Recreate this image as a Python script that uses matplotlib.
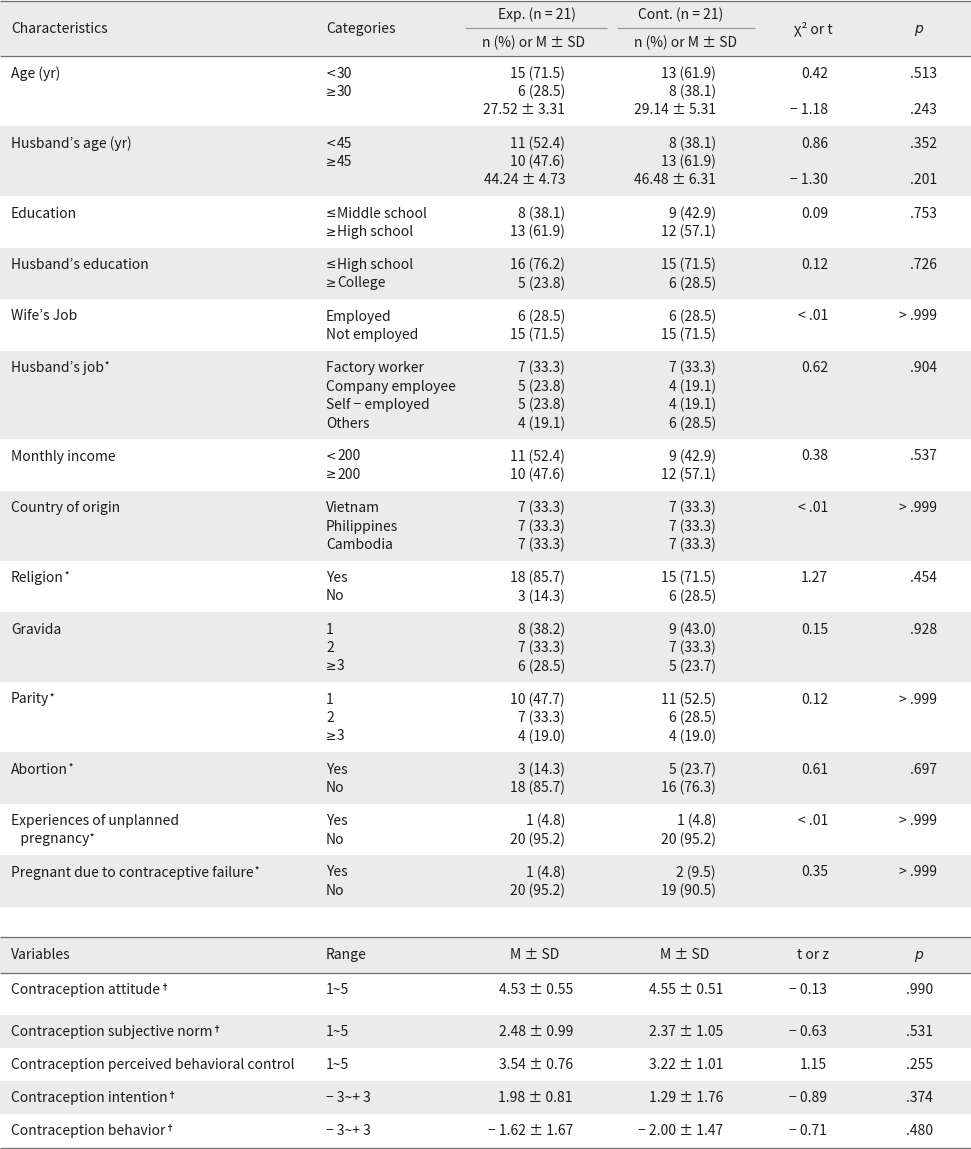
import matplotlib.pyplot as plt

plt.rcParams['font.family'] = ['Noto Sans CJK KR', 'DejaVu Sans']

# ---- table 1 data ----
characteristics = ["Age (yr)", "Husband’s age (yr)", "Education", "Husband’s education",
                   "Wife’s Job", "Husband’s job", "Monthly income", "Country of origin",
                   "Religion", "Gravida", "Parity", "Abortion",
                   "Experiences of unplanned\n   pregnancy", "Pregnant due to contraceptive failure"]
char_marks = ["", "", "", "", "", "*", "", "", "*", "", "*", "*", "*", "*"]
categories = [["<30", "≥30", ""], ["<45", "≥45", ""], ["≤Middle school", "≥High school"],
              ["≤High school", "≥College"], ["Employed", "Not employed"],
              ["Factory worker", "Company employee", "Self − employed", "Others"],
              ["<200", "≥200"], ["Vietnam", "Philippines", "Cambodia"], ["Yes", "No"],
              ["1", "2", "≥3"], ["1", "2", "≥3"], ["Yes", "No"], ["Yes", "No"], ["Yes", "No"]]
exp_vals = [["15 (71.5)", "6 (28.5)", "27.52 ± 3.31"], ["11 (52.4)", "10 (47.6)", "44.24 ± 4.73"],
            ["8 (38.1)", "13 (61.9)"], ["16 (76.2)", "5 (23.8)"], ["6 (28.5)", "15 (71.5)"],
            ["7 (33.3)", "5 (23.8)", "5 (23.8)", "4 (19.1)"], ["11 (52.4)", "10 (47.6)"],
            ["7 (33.3)", "7 (33.3)", "7 (33.3)"], ["18 (85.7)", "3 (14.3)"],
            ["8 (38.2)", "7 (33.3)", "6 (28.5)"], ["10 (47.7)", "7 (33.3)", "4 (19.0)"],
            ["3 (14.3)", "18 (85.7)"], ["1 (4.8)", "20 (95.2)"], ["1 (4.8)", "20 (95.2)"]]
cont_vals = [["13 (61.9)", "8 (38.1)", "29.14 ± 5.31"], ["8 (38.1)", "13 (61.9)", "46.48 ± 6.31"],
             ["9 (42.9)", "12 (57.1)"], ["15 (71.5)", "6 (28.5)"], ["6 (28.5)", "15 (71.5)"],
             ["7 (33.3)", "4 (19.1)", "4 (19.1)", "6 (28.5)"], ["9 (42.9)", "12 (57.1)"],
             ["7 (33.3)", "7 (33.3)", "7 (33.3)"], ["15 (71.5)", "6 (28.5)"],
             ["9 (43.0)", "7 (33.3)", "5 (23.7)"], ["11 (52.5)", "6 (28.5)", "4 (19.0)"],
             ["5 (23.7)", "16 (76.3)"], ["1 (4.8)", "20 (95.2)"], ["2 (9.5)", "19 (90.5)"]]
stat_vals = [["0.42", "", "− 1.18"], ["0.86", "", "− 1.30"], ["0.09"], ["0.12"], ["< .01"],
             ["0.62"], ["0.38"], ["< .01"], ["1.27"], ["0.15"], ["0.12"], ["0.61"],
             ["< .01"], ["0.35"]]
p_vals = [[".513", "", ".243"], [".352", "", ".201"], [".753"], [".726"], ["> .999"],
          [".904"], [".537"], ["> .999"], [".454"], [".928"], ["> .999"], [".697"],
          ["> .999"], ["> .999"]]

# ---- table 2 data ----
variables = ["Contraception attitude", "Contraception subjective norm",
             "Contraception perceived behavioral control", "Contraception intention",
             "Contraception behavior"]
var_marks = ["†", "†", "", "†", "†"]
ranges = ["1~5", "1~5", "1~5", "− 3~+ 3", "− 3~+ 3"]
exp_msd = ["4.53 ± 0.55", "2.48 ± 0.99", "3.54 ± 0.76", "1.98 ± 0.81", "− 1.62 ± 1.67"]
cont_msd = ["4.55 ± 0.51", "2.37 ± 1.05", "3.22 ± 1.01", "1.29 ± 1.76", "− 2.00 ± 1.47"]
t_vals = ["− 0.13", "− 0.63", "1.15", "− 0.89", "− 0.71"]
p2_vals = [".990", ".531", ".255", ".374", ".480"]

W, H = 971, 1149
fig = plt.figure(figsize=(W / 100, H / 100), dpi=100)
ax = fig.add_axes([0, 0, 1, 1])
ax.set_xlim(0, W)
ax.set_ylim(H, 0)
ax.axis('off')

TXT = '#1e1c1d'
GRAY = '#ebebeb'
LINE = '#6e6e6e'

# fit font size to the reference width of a long label
r = fig.canvas.get_renderer()
probe = ax.text(0, 0, "Contraception perceived behavioral control", fontsize=10,
                fontweight='medium')
fs = 10 * 284 / probe.get_window_extent(r).width
probe.remove()


def put(x, y, s, ha='left', **kw):
    kw.setdefault('fontweight', 'medium')
    return ax.text(x, y, s, ha=ha, va='center', fontsize=fs, color=TXT, **kw)


def put_cat(x, y, s):
    # relation signs are narrow in the reference, so draw them apart
    if s and s[0] in "<≥≤":
        ax.text(x, y, s[0], ha='left', va='center', fontsize=fs * 0.9, color=TXT,
                family='DejaVu Sans')
        return put(x + 11, y, s[1:])
    return put(x, y, s)


def mark(t, m):
    if not m:
        return
    bb = t.get_window_extent(r)
    x1, _ = ax.transData.inverted().transform((bb.x1, bb.y1))
    _, yc = ax.transData.inverted().transform((bb.x1, (bb.y0 + bb.y1) / 2))
    ax.text(x1 + 0.5, yc - 2.5, m, ha='left', va='center', fontsize=fs * 0.6, color=TXT,
            fontweight='bold')


def hline(y, x0=0, x1=W, c=LINE, lw=0.9):
    ax.plot([x0, x1], [y, y], color=c, lw=lw, solid_capstyle='butt')


# ---- table 1 ----
ax.axhspan(1, 56, color=GRAY, lw=0)
hline(1)
hline(56)
put(11, 29, "Characteristics")
put(326, 29, "Categories")
put(537, 15, "Exp. (n = 21)", ha='center')
put(681, 15, "Cont. (n = 21)", ha='center')
hline(28, 465, 607, c='#9a9a9a')
hline(28, 617, 755, c='#9a9a9a')
put(534, 43, "n (%) or M ± SD", ha='center')
put(686, 43, "n (%) or M ± SD", ha='center')
put(813, 29, "χ² or t", ha='center')
ax.text(918, 29, "p", ha='center', va='center', fontsize=fs, color=TXT,
        family='DejaVu Sans', style='italic')

STEP = 18.5
y = 56
for i, name in enumerate(characteristics):
    n = len(exp_vals[i])
    h = 33 + STEP * (n - 1)
    if i % 2 == 1:
        ax.axhspan(y, y + h, color=GRAY, lw=0)
    y0 = y + 17.5
    lines = name.split("\n")
    for k, ln in enumerate(lines):
        t = put(11, y0 + k * STEP, ln)
    mark(t, char_marks[i])
    for k in range(n):
        yy = y0 + k * STEP
        if k < len(categories[i]):
            put_cat(326, yy, categories[i][k])
        put(565, yy, exp_vals[i][k], ha='right')
        put(716, yy, cont_vals[i][k], ha='right')
        if k < len(stat_vals[i]):
            put(828, yy, stat_vals[i][k], ha='right')
            put(937, yy, p_vals[i][k], ha='right')
    y += h

# ---- table 2 ----
top2 = 937
ax.axhspan(top2, 973, color=GRAY, lw=0)
hline(top2)
hline(973)
put(11, 955, "Variables")
put(326, 955, "Range")
put(535, 955, "M ± SD", ha='center')
put(685, 955, "M ± SD", ha='center')
put(813, 955, "t or z", ha='center')
ax.text(918, 955, "p", ha='center', va='center', fontsize=fs, color=TXT,
        family='DejaVu Sans', style='italic')

row_h = [42, 33, 33, 33, 33]
y = 973
for i, v in enumerate(variables):
    if i % 2 == 1:
        ax.axhspan(y, y + row_h[i], color=GRAY, lw=0)
    yy = y + 17
    t = put(11, yy, v)
    mark(t, var_marks[i])
    put(326, yy, ranges[i])
    put(573, yy, exp_msd[i], ha='right')
    put(723, yy, cont_msd[i], ha='right')
    put(827, yy, t_vals[i], ha='right')
    put(933, yy, p2_vals[i], ha='right')
    y += row_h[i]
hline(1148)

fig.savefig("out.png", dpi=100)
